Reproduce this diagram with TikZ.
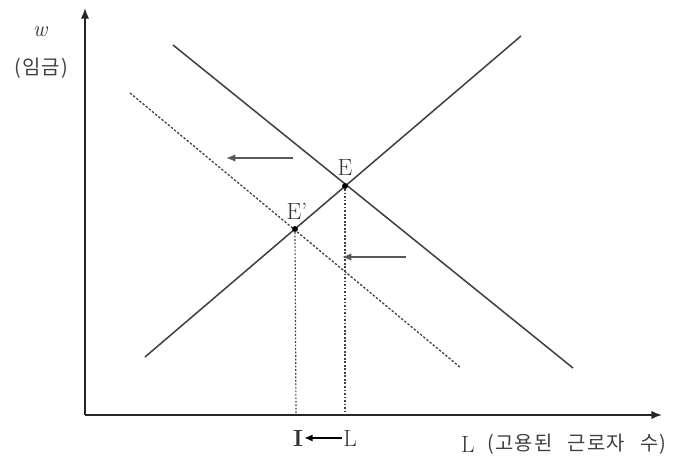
\documentclass[tikz,border=0pt]{standalone}
\usepackage{fontspec}
\newfontfamily\kr[LetterSpace=6]{Noto Sans CJK KR}
\usetikzlibrary{arrows.meta}
\begin{document}
\begin{tikzpicture}[x=0.03cm,y=-0.03cm,
  curve/.style={line width=1.3pt,black!75},
  dcurve/.style={line width=1.1pt,black!75,dash pattern=on 2pt off 1.5pt},
  guide/.style={line width=1pt,black!75,dash pattern=on 1.5pt off 1.5pt},
  axis/.style={line width=1.3pt,black!85,-{Latex[length=9pt,width=7pt]}},
  shiftarrow/.style={line width=1.4pt,black!65,-{Latex[length=8pt,width=6.5pt]}},
  lbl/.style={font=\fontsize{20pt}{22pt}\selectfont,inner sep=0pt,text=black!80},
  krl/.style={font=\kr\fontsize{17pt}{19pt}\selectfont,inner sep=0pt,text=black!75},
  dot/.style={circle,fill=black,inner sep=0pt,minimum size=5pt}]
\useasboundingbox (0,0) rectangle (690,459);
% axes
\coordinate (O) at (85,415);
\coordinate (ytop) at (85,8);
\coordinate (xend) at (662,415);
\draw[axis] (O) -- (ytop);
\draw[axis] (O) -- (xend);
% curves
\coordinate (s1) at (145,357); \coordinate (s2) at (521,36);
\coordinate (d1) at (173,45); \coordinate (d2) at (573,368);
\coordinate (dd1) at (130,93); \coordinate (dd2) at (461,368);
\draw[curve] (s1) -- (s2);
\draw[curve] (d1) -- (d2);
\draw[dcurve] (dd1) -- (dd2);
% equilibria
\node[dot] (E) at (345,186) {};
\node[dot] (Ep) at (295,229) {};
\coordinate (Ex) at (345,415);
\coordinate (Epx) at (296,415);
\draw[guide] (E) -- (Ex);
\draw[guide] (Ep) -- (Epx);
\node[lbl] (Elbl) at (345,168) {E};
\node[lbl] (Eplbl) at (297,211) {E'};
% shift arrows
\coordinate (a1s) at (293,158); \coordinate (a1e) at (226,158);
\coordinate (a2s) at (406,257); \coordinate (a2e) at (342,257);
\draw[shiftarrow] (a1s) -- (a1e);
\draw[shiftarrow] (a2s) -- (a2e);
% axis labels
\node[lbl,font=\fontsize{19pt}{21pt}\selectfont] (w) at (40,32) {\itshape w};
\node[krl] (wk) at (41,68) {(임금)};
\node[lbl,font=\bfseries\fontsize{20pt}{22pt}\selectfont] (I) at (298,438) {I};
\node[lbl] (L) at (350,438) {L};
\draw[line width=1.2pt,-{Latex[length=7pt,width=6pt]}] ([xshift=-1pt]L.west) -- ([xshift=1pt]I.east);
\node[lbl,anchor=west] (Lx) at (461,445) {L};
\node[krl,anchor=west] (Lk) at (487,444) {(고용된\hspace{13pt}근로자\hspace{13pt}수)};
\end{tikzpicture}
\end{document}
